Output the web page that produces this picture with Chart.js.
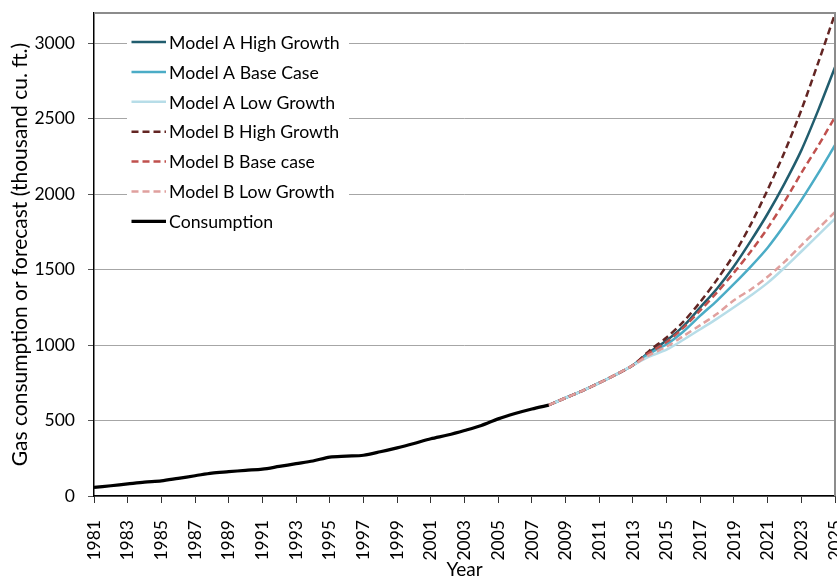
<!DOCTYPE html>
<html>
<head>
<meta charset="utf-8">
<title>Gas consumption and forecast</title>
<script src="https://cdn.jsdelivr.net/npm/chart.js@4.4.1/dist/chart.umd.min.js"></script>
<style>
    html, body { margin: 0; padding: 0; background: #fff; }
    #wrap { width: 837px; height: 581px; position: relative; }
</style>
</head>
<body>
<div id="wrap"><canvas id="gas-chart"></canvas></div>
<script>
// history, 1981-2008
const historyYears = [1981, 1982, 1983, 1984, 1985, 1986, 1987, 1988, 1989, 1990,
                      1991, 1992, 1993, 1994, 1995, 1996, 1997, 1998, 1999, 2000,
                      2001, 2002, 2003, 2004, 2005, 2006, 2007, 2008];
const consumption  = [57, 68, 80, 92, 100, 117, 134, 152, 161, 170,
                      178, 196, 214, 232, 258, 264, 270, 293, 319, 348,
                      379, 404, 434, 467, 511, 546, 576, 602];

// forecasts, 2008-2025
const forecastYears = [2008, 2009, 2010, 2011, 2012, 2013, 2014, 2015, 2016,
                       2017, 2018, 2019, 2020, 2021, 2022, 2023, 2024, 2025];
const modelAHigh = [602, 650, 697, 749, 805, 866, 955, 1030, 1125, 1250, 1375, 1522, 1690, 1870, 2070, 2290, 2555, 2841];
const modelABase = [602, 650, 697, 749, 805, 866, 945, 1005, 1090, 1195, 1295, 1405, 1520, 1645, 1795, 1960, 2137, 2324];
const modelALow  = [602, 650, 697, 749, 805, 866, 925, 970, 1035, 1105, 1175, 1250, 1328, 1412, 1512, 1620, 1728, 1837];
const modelBHigh = [602, 650, 697, 749, 805, 866, 965, 1050, 1155, 1286, 1435, 1600, 1800, 2029, 2278, 2557, 2870, 3194];
const modelBBase = [602, 650, 697, 749, 805, 866, 950, 1020, 1115, 1230, 1350, 1480, 1620, 1775, 1950, 2140, 2320, 2511];
const modelBLow  = [602, 650, 697, 749, 805, 866, 935, 990, 1060, 1132, 1207, 1297, 1368, 1452, 1551, 1661, 1771, 1881];

const seriesLabels = ["Model A High Growth", "Model A Base Case", "Model A Low Growth",
                      "Model B High Growth", "Model B Base case", "Model B Low Growth",
                      "Consumption"];

const yTickValues = [0, 500, 1000, 1500, 2000, 2500, 3000];

const FONT = "Lato, 'Open Sans', sans-serif";

function pts(xs, ys) {
    return xs.map((x, i) => ({ x: x, y: ys[i] }));
}

function series(label, xs, ys, color, dash, width) {
    return {
        label: label,
        data: pts(xs, ys),
        borderColor: color,
        backgroundColor: color,
        borderWidth: width,
        borderDash: dash,
        pointRadius: 0,
        tension: 0.3,
        fill: false,
    };
}

const datasets = [
    series(seriesLabels[0], forecastYears, modelAHigh, "#215d6e", [], 2.5),
    series(seriesLabels[1], forecastYears, modelABase, "#4bacc6", [], 2.5),
    series(seriesLabels[2], forecastYears, modelALow,  "#b7dde8", [], 2.5),
    series(seriesLabels[3], forecastYears, modelBHigh, "#632523", [7, 4], 2.5),
    series(seriesLabels[4], forecastYears, modelBBase, "#c0504d", [7, 4], 2.5),
    series(seriesLabels[5], forecastYears, modelBLow,  "#e0a09e", [7, 4], 2.5),
    series(seriesLabels[6], historyYears, consumption, "#000000", [], 3.2),
];
// Excel stacks later series on top; Chart.js puts lower `order` on top
datasets.forEach((d, i) => { d.order = datasets.length - i; });

// legend box sitting inside the plot, with a white backing
const insideLegend = {
    id: "insideLegend",
    afterDraw(chart) {
        const ctx = chart.ctx;
        const area = chart.chartArea;
        const x0 = area.left + 33, y0 = area.top + 13;
        ctx.save();
        ctx.fillStyle = "#fff";
        ctx.fillRect(x0, y0, 222, 212);
        ctx.font = "17.7px " + FONT;
        ctx.textBaseline = "middle";
        chart.data.datasets.forEach((d, i) => {
            const y = y0 + 16 + i * 29.9;
            ctx.beginPath();
            ctx.strokeStyle = d.borderColor;
            ctx.lineWidth = d.borderWidth;
            ctx.setLineDash(d.borderDash);
            ctx.moveTo(x0 + 4.5, y);
            ctx.lineTo(x0 + 39, y);
            ctx.stroke();
            ctx.setLineDash([]);
            ctx.fillStyle = "#000";
            ctx.fillText(d.label, x0 + 42, y + 1);
        });
        // grey frame on top and right edges of the plot
        ctx.strokeStyle = "#8c8c8c";
        ctx.lineWidth = 2;
        ctx.beginPath();
        ctx.moveTo(area.left, area.top);
        ctx.lineTo(area.right, area.top);
        ctx.lineTo(area.right, area.bottom);
        ctx.stroke();
        ctx.restore();
    },
};

new Chart(document.getElementById("gas-chart"), {
    type: "line",
    data: { datasets: datasets },
    plugins: [insideLegend],
    options: {
        responsive: true,
        maintainAspectRatio: false,
        animation: false,
        layout: { padding: { top: 13, right: 2, left: 0, bottom: 0 } },
        plugins: {
            legend: { display: false },
            tooltip: { enabled: false },
        },
        scales: {
            x: {
                type: "linear",
                min: 1981,
                max: 2025,
                grid: { drawOnChartArea: false, tickLength: 7, tickColor: "#333", lineWidth: 1 },
                border: { color: "#000", width: 1.5 },
                ticks: {
                    stepSize: 2,
                    autoSkip: false,
                    minRotation: 90,
                    maxRotation: 90,
                    padding: 17,
                    color: "#000",
                    font: { family: FONT, size: 17.5 },
                    callback: v => String(v),
                },
                title: {
                    display: true,
                    text: "Year",
                    color: "#000",
                    font: { family: FONT, size: 19 },
                    padding: { top: 0, bottom: 0 },
                },
                afterFit: axis => {
                    axis.height = 85;
                    axis.paddingLeft = 0;
                    axis.paddingRight = 0;
                },
            },
            y: {
                min: 0,
                max: 3200,
                grid: { color: "#a6a6a6", tickLength: 6, tickColor: "#555", lineWidth: 1 },
                border: { color: "#000", width: 1.5 },
                ticks: {
                    padding: 13,
                    color: "#000",
                    font: { family: FONT, size: 17.5 },
                    callback: v => String(v),
                },
                afterBuildTicks: axis => {
                    axis.ticks = yTickValues.map(v => ({ value: v }));
                },
                title: {
                    display: true,
                    text: "Gas consumption or forecast (thousand cu. ft.)",
                    color: "#000",
                    font: { family: FONT, size: 21 },
                    padding: { top: 8, bottom: 0 },
                },
                afterFit: axis => {
                    axis.width = 94;
                    axis.paddingTop = 0;
                    axis.paddingBottom = 0;
                },
            },
        },
    },
});
</script>
</body>
</html>
